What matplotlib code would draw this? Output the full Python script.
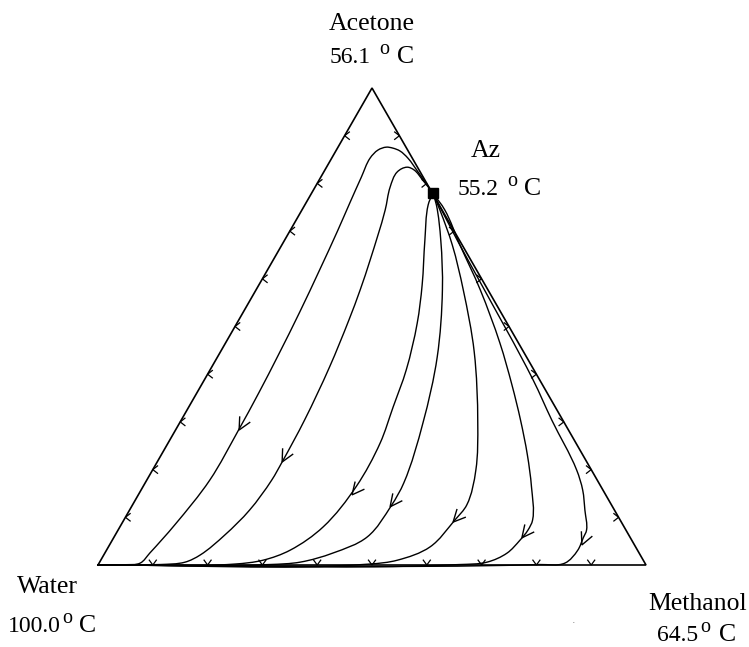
import numpy as np
import matplotlib
matplotlib.use("Agg")
import matplotlib.pyplot as plt
from matplotlib.path import Path
from matplotlib.patches import PathPatch

plt.rcParams['font.family'] = ['Liberation Serif', 'DejaVu Serif']

# ---------------- data (mole fractions) ----------------
components = ["Water", "Methanol", "Acetone"]
boiling_points = ["100.0", "64.5", "56.1"]
az_label = "Az"
az_temp = "55.2"
az_methanol = 0.221
az_acetone = 0.780

# residue curves, listed from the azeotrope towards pure water
c1_methanol = [0.221, 0.172, 0.139, 0.117, 0.101, 0.088, 0.076, 0.070, 0.074, 0.080, 0.087, 0.095,
               0.103, 0.109, 0.113, 0.115, 0.115, 0.098, 0.082, 0.075, 0.049, 0.0]
c1_acetone = [0.780, 0.824, 0.853, 0.868, 0.874, 0.876, 0.870, 0.853, 0.813, 0.759, 0.700, 0.620,
              0.530, 0.440, 0.360, 0.283, 0.178, 0.084, 0.025, 0.004, 0.0006, 0.0]

c2_methanol = [0.221, 0.189, 0.163, 0.147, 0.134, 0.137, 0.152, 0.177, 0.190, 0.201, 0.215, 0.225,
               0.228, 0.228, 0.219, 0.200, 0.176, 0.156, 0.113, 0.058, 0.0]
c2_acetone = [0.780, 0.807, 0.828, 0.834, 0.824, 0.792, 0.744, 0.639, 0.577, 0.514, 0.415, 0.304,
              0.216, 0.178, 0.115, 0.063, 0.021, 0.006, 0.001, 0.0005, 0.0]

c3_methanol = [0.221, 0.225, 0.256, 0.298, 0.329, 0.358, 0.373, 0.387, 0.389, 0.371, 0.335, 0.296,
               0.249, 0.0]
c3_acetone = [0.780, 0.755, 0.681, 0.587, 0.507, 0.409, 0.331, 0.256, 0.165, 0.080, 0.031, 0.010,
              0.002, 0.0]

c4_methanol = [0.221, 0.240, 0.285, 0.340, 0.401, 0.444, 0.472, 0.473, 0.462, 0.416, 0.366, 0.313, 0.0]
c4_acetone = [0.780, 0.755, 0.681, 0.577, 0.436, 0.298, 0.172, 0.125, 0.059, 0.025, 0.006, 0.001, 0.0]

c5_methanol = [0.221, 0.252, 0.311, 0.378, 0.463, 0.544, 0.590, 0.610, 0.604, 0.587, 0.541, 0.495, 0.0]
c5_acetone = [0.780, 0.744, 0.671, 0.577, 0.447, 0.298, 0.199, 0.126, 0.094, 0.038, 0.010, 0.002, 0.0]

c6_methanol = [0.221, 0.261, 0.325, 0.409, 0.501, 0.567, 0.619, 0.668, 0.709, 0.746, 0.748, 0.744,
               0.734, 0.707, 0.660, 0.0]
c6_acetone = [0.780, 0.744, 0.671, 0.577, 0.465, 0.377, 0.304, 0.231, 0.164, 0.094, 0.073, 0.052,
              0.025, 0.006, 0.001, 0.0]

c7_methanol = [0.221, 0.315, 0.397, 0.600, 0.676, 0.774, 0.806, 0.831, 0.855, 0.857, 0.860, 0.850,
               0.806, 0.0]
c7_acetone = [0.780, 0.681, 0.597, 0.388, 0.304, 0.199, 0.157, 0.115, 0.073, 0.057, 0.031, 0.004,
              0.001, 0.0]

curves_methanol = [c1_methanol, c2_methanol, c3_methanol, c4_methanol, c5_methanol, c6_methanol, c7_methanol]
curves_acetone = [c1_acetone, c2_acetone, c3_acetone, c4_acetone, c5_acetone, c6_acetone, c7_acetone]

# arrow tips on the residue curves
arrow_methanol = [0.116, 0.228, 0.390, 0.472, 0.603, 0.745, 0.862]
arrow_acetone = [0.283, 0.216, 0.147, 0.122, 0.090, 0.057, 0.042]

# direction marks along the three binary edges
edge_marks = [0.1, 0.2, 0.3, 0.4, 0.5, 0.6, 0.7, 0.8, 0.9]

# ---------------- helpers ----------------
H = np.sqrt(3) / 2


def to_xy(m, a):
    m = np.asarray(m, float)
    a = np.asarray(a, float)
    return m + a / 2, a * H


W, Hpx = 749, 647
fig = plt.figure(figsize=(W / 100, Hpx / 100), dpi=100)
ax = fig.add_axes([0, 0, 1, 1])
ax.set_axis_off()
sx = 548.0
sy = 477.0 / H
ax.set_xlim(-98 / sx, (W - 98) / sx)
ax.set_ylim(-(Hpx - 565) / sy, 565 / sy)
fig.canvas.draw()

# triangle
tx, ty = to_xy([0, 1, 0, 0], [0, 0, 1, 0])
ax.plot(tx, ty, color='black', lw=1.2, solid_joinstyle='miter')


def chevron(tip_xy, back_deg, half, length, lw=0.9):
    tp = ax.transData.transform(tip_xy)
    inv = ax.transData.inverted()
    pts = []
    for s in (1, -1):
        ang = np.deg2rad(back_deg + s * half)
        pts.append(inv.transform(tp + length * np.array([np.cos(ang), np.sin(ang)])))
    tip = np.asarray(tip_xy)
    ax.plot([pts[0][0], tip[0], pts[1][0]], [pts[0][1], tip[1], pts[1][1]],
            color='black', lw=lw, solid_joinstyle='miter')


def smooth_path(x, y):
    """Cubic Bezier path through the points with tangents from neighbours."""
    P = np.column_stack([x, y])
    n = len(P)
    T = np.zeros_like(P)
    for i in range(n):
        if i == 0:
            d = P[1] - P[0]
        elif i == n - 1:
            d = P[-1] - P[-2]
        else:
            d1 = P[i] - P[i - 1]
            d2 = P[i + 1] - P[i]
            l1, l2 = np.hypot(*d1), np.hypot(*d2)
            d = d1 / max(l1, 1e-12) + d2 / max(l2, 1e-12)
        L = np.hypot(*d)
        T[i] = d / L if L > 0 else d
    verts = [P[0]]
    codes = [Path.MOVETO]
    for i in range(n - 1):
        seg = np.hypot(*(P[i + 1] - P[i]))
        verts += [P[i] + T[i] * seg / 3, P[i + 1] - T[i + 1] * seg / 3, P[i + 1]]
        codes += [Path.CURVE4] * 3
    return Path(verts, codes)


# residue curves
for cm, ca in zip(curves_methanol, curves_acetone):
    x, y = to_xy(cm, ca)
    ax.add_patch(PathPatch(smooth_path(x, y), facecolor='none', edgecolor='black', lw=1.0))

# arrows on residue curves
for i, (am, aa) in enumerate(zip(arrow_methanol, arrow_acetone)):
    cx, cy = to_xy(curves_methanol[i], curves_acetone[i])
    P = ax.transData.transform(np.column_stack([cx, cy]))
    tx_, ty_ = to_xy(am, aa)
    t = ax.transData.transform([float(tx_), float(ty_)])
    best = None
    for k in range(len(P) - 1):
        d = P[k + 1] - P[k]
        L2 = d @ d
        if L2 == 0:
            continue
        u = np.clip((t - P[k]) @ d / L2, 0, 1)
        q = P[k] + u * d
        dist = np.hypot(*(t - q))
        if best is None or dist < best[0]:
            best = (dist, d)
    _, d = best
    back = np.degrees(np.arctan2(-d[1], -d[0]))
    chevron(np.array([float(tx_), float(ty_)]), back, 26, 13, lw=1.0)

# edge marks
for v in edge_marks:
    chevron(np.array(to_xy(0.0, v)), 0, 38, 6)        # water-acetone edge
    chevron(np.array(to_xy(1 - v, v)), 180, 38, 6)    # methanol-acetone edge
    chevron(np.array(to_xy(v, 0.0)), 90, 36, 6)       # water-methanol edge

# azeotrope
azx, azy = to_xy(az_methanol, az_acetone)
ax.plot([azx], [azy], marker='s', color='black', markersize=6.5)


# labels (pixel positions of the layout)
def ftext(px, py, s, ha='center', size=18.5):
    fig.text(px / W, 1 - py / Hpx, s, ha=ha, va='baseline', fontsize=size)


def temp_label(num, x_num, x_o, x_c, base):
    ftext(x_num, base, num, ha='left', size=17)
    ftext(x_o, base - 9, "o", ha='left', size=14.5)
    ftext(x_c, base, "C", ha='left', size=18.5)


ftext(372, 30, components[2])
temp_label(boiling_points[2], 330, 379, 397, 63)
ftext(486, 157, az_label)
temp_label(az_temp, 458, 507, 524, 195)
ftext(47, 593, components[0])
temp_label(boiling_points[0], 8, 62, 79, 632)
ftext(698, 610, components[1])
temp_label(boiling_points[1], 657, 700, 719, 641)
fig.text(573 / W, 1 - 623 / Hpx, ".", ha='center', va='baseline', fontsize=5)

fig.savefig("out.png", dpi=100)
